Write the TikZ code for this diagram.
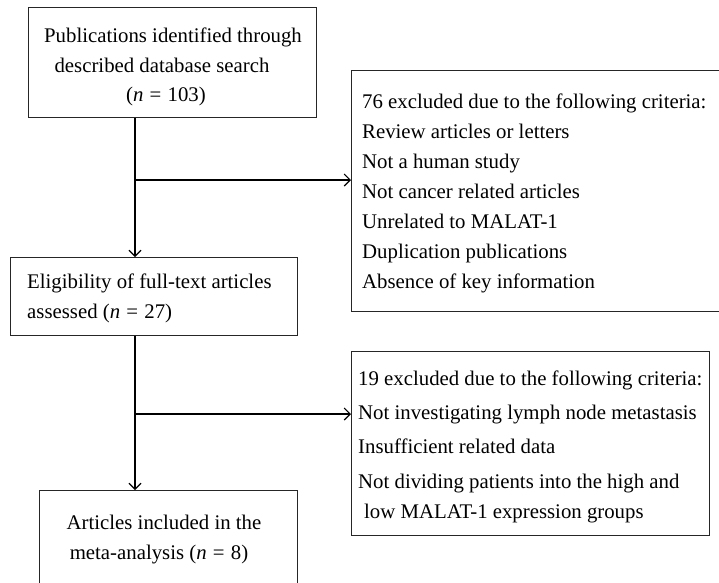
\documentclass[tikz,border=0pt]{standalone}
\usepackage{fontspec}
\setmainfont{Liberation Serif}
\usetikzlibrary{arrows.meta}
\newcommand{\eqsp}{\hspace{0.3em}=\hspace{0.3em}}
\tikzset{
  box/.style={draw=black!85, line width=1.2pt, fill=white, inner sep=0pt, anchor=north west},
  txt/.style={inner sep=0pt, font=\fontsize{20.8}{24}\selectfont},
  lft/.style={txt, anchor=base west},
  ctr/.style={txt, anchor=base},
  conn/.style={draw=black, line width=1.2pt},
  arr/.style={conn, -{Straight Barb[length=6pt,width=12pt,line width=1.1pt]}}
}
\begin{document}
\begin{tikzpicture}[x=1pt,y=-1pt]
\useasboundingbox (0,0) rectangle (719,582);
\clip (0,0) rectangle (719,582);
\fill[white] (0,0) rectangle (719,582);
% boxes
\node[box, minimum width=288pt, minimum height=110pt] (b1) at (28,7) {};
\node[box, minimum width=380pt, minimum height=241pt] (b2) at (351,70) {};
\node[box, minimum width=287pt, minimum height=78pt] (b3) at (10,257) {};
\node[box, minimum width=358pt, minimum height=184pt] (b4) at (351,351) {};
\node[box, minimum width=258pt, minimum height=120pt] (b5) at (39,490) {};
% texts
\node[ctr] (t11) at (173,42) {Publications identified through};
\node[ctr] (t12) at (162,72) {described database search};
\node[ctr] (t13) at (166,101) {(\textit{n}\eqsp 103)};
\node[lft] (t21) at (362,108) {76 excluded due to the following criteria:};
\node[lft] (t22) at (362,138) {Review articles or letters};
\node[lft] (t23) at (362,168) {Not a human study};
\node[lft] (t24) at (362,198) {Not cancer related articles};
\node[lft] (t25) at (362,228) {Unrelated to MALAT-1};
\node[lft] (t26) at (362,258) {Duplication publications};
\node[lft] (t27) at (362,288) {Absence of key information};
\node[lft] (t31) at (27,288) {Eligibility of full-text articles};
\node[lft] (t32) at (27,318) {assessed (\textit{n}\eqsp 27)};
\node[lft] (t41) at (358,385) {19 excluded due to the following criteria:};
\node[lft] (t42) at (358,419) {Not investigating lymph node metastasis};
\node[lft] (t43) at (358,453) {Insufficient related data};
\node[lft] (t44) at (358,488) {Not dividing patients into the high and};
\node[lft] (t45) at (364,518) {low MALAT-1 expression groups};
\node[ctr] (t51) at (164,529) {Articles included in the};
\node[ctr] (t52) at (159,559) {meta-analysis (\textit{n}\eqsp 8)};
% connectors
\coordinate (j1) at (135,180);
\coordinate (j2) at (135,414);
\draw[arr] (b1.south -| j1) -- (b3.north -| j1);
\draw[arr] (j1) -- (j1 -| b2.west);
\draw[arr] (b3.south -| j2) -- (b5.north -| j2);
\draw[arr] (j2) -- (j2 -| b4.west);
\end{tikzpicture}
\end{document}
